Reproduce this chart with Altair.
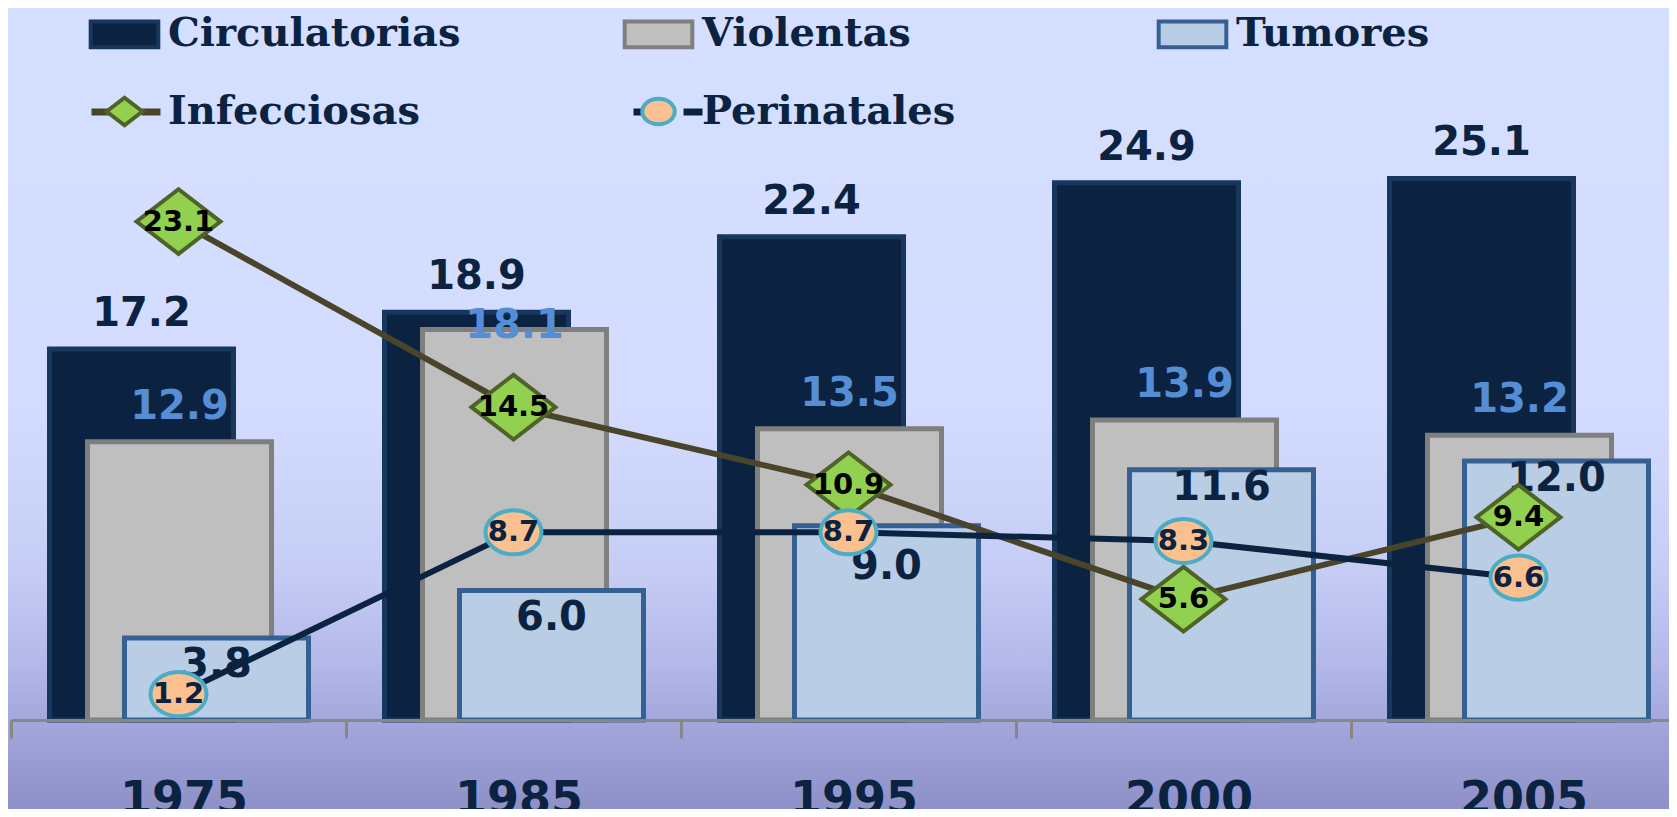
import altair as alt
import pandas as pd

# ---------------- data ----------------
years = ["1975", "1985", "1995", "2000", "2005"]
circulatorias = [17.2, 18.9, 22.4, 24.9, 25.1]
violentas = [12.9, 18.1, 13.5, 13.9, 13.2]
tumores = [3.8, 6.0, 9.0, 11.6, 12.0]
infecciosas = [23.1, 14.5, 10.9, 5.6, 9.4]
perinatales = [1.2, 8.7, 8.7, 8.3, 6.6]
series_names = ["Circulatorias", "Violentas", "Tumores", "Infecciosas", "Perinatales"]

# ---------------- styling ----------------
W, H = 1658, 712
BAND_RANGE = 1675
YMAX = 33
NAVY = "#0b2340"

RECT_PATH = "M-0.98,-0.37H0.98V0.37H-0.98Z"
DIAMOND_PATH = "M-0.52,0L0,-0.4L0.52,0L0,0.4Z"
ELLIPSE_PATH = "M-0.47,0A0.47,0.37 0 1,0 0.47,0A0.47,0.37 0 1,0 -0.47,0Z"
SEG_PATH = "M-1,0H-0.45M0.45,0H1"

fills = [NAVY, "#bfbfbf", "#b9cde5", "#92d050", "#fac090"]
strokes = ["#17375e", "#7f7f7f", "#376092", "#4f6228", "#4bacc6"]
shapes = [RECT_PATH, RECT_PATH, RECT_PATH, DIAMOND_PATH, ELLIPSE_PATH]
line_colors = ["transparent", "transparent", "transparent", "#4a452a", NAVY]
marker_series = ["Perinatales", "Infecciosas"]
marker_sizes = [14200, 26100]

df_c = pd.DataFrame({"year": years, "value": circulatorias})
df_v = pd.DataFrame({"year": years, "value": violentas})
df_t = pd.DataFrame({"year": years, "value": tumores})
df_l = pd.DataFrame({
    "year": years + years,
    "value": infecciosas + perinatales,
    "series": ["Infecciosas"] * len(years) + ["Perinatales"] * len(years),
})
df_bg = pd.DataFrame({"bg": [0]})

xaxis = alt.Axis(
    title=None, tickBand="extent", labelAngle=0, zindex=1,
    domainColor="#878787", domainWidth=3,
    tickColor="#878787", tickWidth=3, tickSize=18,
    labelFont="DejaVu Sans", labelFontWeight="bold", labelFontSize=46,
    labelColor=NAVY, labelPadding=39, labelBaseline="top", labelOffset=5,
)
X = alt.X("year:N", sort=years,
          scale=alt.Scale(type="band", domain=years, range=[0, BAND_RANGE],
                          paddingInner=0, paddingOuter=0),
          axis=xaxis)
Y = alt.Y("value:Q", scale=alt.Scale(domain=[0, YMAX], nice=False, zero=True), axis=None)

leg_common = dict(
    orient="none", direction="horizontal", legendX=77, legendY=-11, columns=3,
    gridAlign="all", columnPadding=155, rowPadding=19, labelFont="DejaVu Serif",
    labelFontWeight="bold", labelFontSize=40, labelOffset=7, labelLimit=700,
    symbolSize=4761, padding=0, title=None,
)
leg1 = alt.Legend(labelColor=NAVY, symbolStrokeWidth=4, **leg_common)
leg2 = alt.Legend(labelColor="transparent", symbolType=SEG_PATH,
                  symbolStrokeWidth=7, **leg_common)

# background gradient
bg = alt.Chart(df_bg).mark_rect(
    fill=alt.Gradient(
        gradient="linear", x1=0, x2=0, y1=0, y2=1,
        stops=[
            alt.GradientStop(offset=0, color="#d5dfff"),
            alt.GradientStop(offset=0.5, color="#d3dcfe"),
            alt.GradientStop(offset=0.7, color="#c6cdf5"),
            alt.GradientStop(offset=0.82, color="#b3b8e9"),
            alt.GradientStop(offset=0.89, color="#a3a7dc"),
            alt.GradientStop(offset=1, color="#8e90c8"),
        ],
    )
).encode(x=alt.value(-3), x2=alt.value(W), y=alt.value(0), y2=alt.value(801))

BW = 184
bars_c = alt.Chart(df_c).mark_bar(width=BW, xOffset=-37, fill=fills[0], stroke=strokes[0],
                                  strokeWidth=5).encode(x=X, y=Y)
bars_v = alt.Chart(df_v).mark_bar(width=BW, xOffset=1, fill=fills[1], stroke=strokes[1],
                                  strokeWidth=5).encode(x=X, y=Y)
bars_t = alt.Chart(df_t).mark_bar(width=BW, xOffset=38, fill=fills[2], stroke=strokes[2],
                                  strokeWidth=5).encode(x=X, y=Y)

lbl = dict(font="DejaVu Sans", fontWeight="bold", fontSize=40, baseline="middle", align="center")
TXT = alt.Text("value:Q", format=".1f")
text_c = alt.Chart(df_c).mark_text(dx=-37, dy=-35, color=NAVY, **lbl).encode(x=X, y=Y, text=TXT)
text_v1 = alt.Chart(df_v).transform_filter(alt.datum.year != "1985").mark_text(
    dx=1, dy=-35, color="#558ed5", **lbl).encode(x=X, y=Y, text=TXT)
text_v2 = alt.Chart(df_v).transform_filter(alt.datum.year == "1985").mark_text(
    dx=1, dy=-3, color="#558ed5", **lbl).encode(x=X, y=Y, text=TXT)
text_t1 = alt.Chart(df_t).transform_filter(
    (alt.datum.year == "1975") | (alt.datum.year == "1985")
).mark_text(dx=38, dy=27, color=NAVY, **lbl).encode(x=X, y=Y, text=TXT)
text_t2 = alt.Chart(df_t).transform_filter(alt.datum.year == "1995").mark_text(
    dx=38, dy=41, color=NAVY, **lbl).encode(x=X, y=Y, text=TXT)
text_t3 = alt.Chart(df_t).transform_filter(
    (alt.datum.year == "2000") | (alt.datum.year == "2005")
).mark_text(dx=38, dy=18, color=NAVY, **lbl).encode(x=X, y=Y, text=TXT)

lines = alt.Chart(df_l).mark_line(strokeWidth=6).encode(
    x=X, y=Y,
    stroke=alt.Stroke("series:N", scale=alt.Scale(domain=series_names, range=line_colors),
                      legend=leg2),
    detail="series:N",
)

markers = alt.Chart(df_l).mark_point(filled=True, opacity=1, strokeWidth=4).encode(
    x=X, y=Y,
    fill=alt.Fill("series:N", scale=alt.Scale(domain=series_names, range=fills), legend=leg1),
    stroke=alt.Stroke("series:N", scale=alt.Scale(domain=series_names, range=strokes), legend=leg1),
    shape=alt.Shape("series:N", scale=alt.Scale(domain=series_names, range=shapes), legend=leg1),
    size=alt.Size("series:N", scale=alt.Scale(type="ordinal", domain=marker_series,
                                               range=marker_sizes), legend=None),
)

mlab = alt.Chart(df_l).mark_text(font="DejaVu Sans", fontWeight="bold", fontSize=29,
                                 baseline="middle", align="center").encode(
    x=X, y=Y, text=TXT,
    color=alt.condition(alt.datum.series == "Infecciosas", alt.value("#000000"), alt.value(NAVY)),
)

chart = alt.layer(
    bg, bars_c, bars_v, bars_t, text_c, text_v1, text_v2, text_t1, text_t2, text_t3,
    lines, markers, mlab
).resolve_scale(
    fill="independent", stroke="independent", shape="independent", size="independent"
).properties(
    width=W, height=H,
    autosize=alt.AutoSizeParams(type="none"),
    padding={"left": 3, "top": 0, "right": 0, "bottom": 89},
).configure_view(stroke=None)

chart.save("out.html", embed_options={"renderer": "svg", "actions": False})
